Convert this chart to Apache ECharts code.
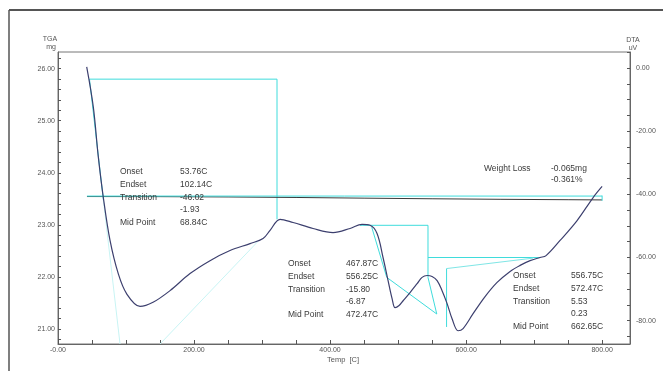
<!DOCTYPE html>
<html>
<head>
<meta charset="utf-8">
<script src="https://cdn.jsdelivr.net/npm/echarts@6/dist/echarts.min.js"></script>
<style>
  html, body { margin: 0; padding: 0; background: #ffffff; }
  #chart { width: 663px; height: 371px; }
</style>
</head>
<body>
<div id="chart"></div>
<script>
// DTA trace: [temperature C, signal uV]
const dtaCurve = [
  [42.2, 0.4], [51.9, -12.3], [59.3, -28.2], [66.6, -40.9], [76.5, -54.6],
  [88.7, -65.2], [101.0, -71.5], [120.6, -75.5], [139.7, -74.2], [164.7, -70.5],
  [194.1, -65.1], [223.5, -61.0], [252.9, -57.8], [282.4, -55.6], [301.5, -54.0],
  [311.8, -51.4], [326.5, -47.9], [345.6, -48.9], [375.0, -50.8], [404.4, -52.1],
  [429.4, -50.8], [447.0, -49.5], [458.8, -49.8], [469.1, -52.4], [477.9, -60.0],
  [485.3, -67.3], [491.2, -73.0], [495.6, -75.9], [501.5, -75.2], [507.4, -73.7],
  [517.6, -71.1], [528.0, -68.3], [535.3, -66.3], [542.6, -65.7], [550.0, -66.0],
  [557.4, -67.3], [564.7, -70.5], [572.1, -74.6], [579.4, -79.4], [588.2, -83.2],
  [595.6, -82.5], [610.3, -77.8], [627.9, -72.4], [645.6, -67.9], [664.7, -64.4],
  [679.4, -62.5], [694.1, -61.0], [708.8, -60.0], [717.6, -59.4], [738.2, -54.6],
  [763.2, -48.3], [786.8, -41.0], [800.0, -37.5]
];

// TGA trace: [temperature C, mass mg]
const tgaCurve = [
  [42.6, 23.543], [150, 23.541], [250, 23.535], [350, 23.525], [450, 23.512],
  [550, 23.500], [650, 23.490], [750, 23.482], [800, 23.478]
];

// Weight-loss baseline on the TGA scale
const tgaBaseline = [[42.6, 23.552], [800, 23.552]];
const tgaBaselineCap = [[800, 23.562], [800, 23.462]];

// First DTA peak analysis (DTA scale)
const peak1Step = [[46.3, -3.5], [322, -3.5], [322, -47.9]];
const peak1Tangent = [[46.3, -3.5], [66.8, -41.9]];
const peak1TangentTail = [[66.8, -41.9], [91.2, -87.4]];
const peak1ReturnTangent = [[150, -87.4], [294, -54.9]];

// Second DTA peak analysis
const peak2Path = [[444, -49.8], [544, -49.8], [544, -66.3], [556.9, -77.9], [483.4, -66.3], [461.3, -50.4]];

// Third DTA peak analysis
const peak3Step = [[544, -60.0], [708.8, -60.0]];
const peak3Drop = [[571.3, -63.5], [571.3, -82.0]];
const peak3Baseline = [[571.3, -63.5], [698.5, -60.2]];

// Axis ticks and labels
const tempTicks = [0, 50, 100, 150, 200, 250, 300, 350, 400, 450, 500, 550, 600, 650, 700, 750, 800];
const tempLabelValues = [0, 200, 400, 600, 800];
const tempLabelText = ['-0.00', '200.00', '400.00', '600.00', '800.00'];
const tgaTicks = [20.8, 21.0, 21.2, 21.4, 21.6, 21.8, 22.0, 22.2, 22.4, 22.6, 22.8, 23.0, 23.2, 23.4, 23.6, 23.8,
  24.0, 24.2, 24.4, 24.6, 24.8, 25.0, 25.2, 25.4, 25.6, 25.8, 26.0, 26.2];
const tgaLabelValues = [21, 22, 23, 24, 25, 26];
const dtaTicks = [-85, -80, -75, -70, -65, -60, -55, -50, -45, -40, -35, -30, -25, -20, -15, -10, -5, 0, 5];
const dtaLabelValues = [0, -20, -40, -60, -80];

// Result tables printed on the plot
const peak1Names = ['Onset', 'Endset', 'Transition', '', 'Mid Point'];
const peak1Values = ['53.76C', '102.14C', '-46.02', '-1.93', '68.84C'];
const peak2Names = ['Onset', 'Endset', 'Transition', '', 'Mid Point'];
const peak2Values = ['467.87C', '556.25C', '-15.80', '-6.87', '472.47C'];
const peak3Names = ['Onset', 'Endset', 'Transition', '', 'Mid Point'];
const peak3Values = ['556.75C', '572.47C', '5.53', '0.23', '662.65C'];
const weightLossName = 'Weight Loss';
const weightLossValues = ['-0.065mg', '-0.361%'];

const FONT = '"Liberation Sans", Arial, sans-serif';
const CYAN = '#3fdcdc';
const CYAN_FAINT = '#c8f4f4';

function cyanLine(data, axisIndex, color, z) {
  return {
    type: 'line', data: data, yAxisIndex: axisIndex, showSymbol: false, symbol: 'none',
    lineStyle: { color: color || CYAN, width: 1 }, silent: true, animation: false, z: z || 2
  };
}

function table(names, values, x1, x2, rows) {
  const out = [];
  names.forEach((n, i) => {
    if (n) out.push({ type: 'text', x: x1, y: rows[i], z: 10,
      style: { text: n, font: '8.5px ' + FONT, fill: '#3a3a3a', verticalAlign: 'middle' } });
    out.push({ type: 'text', x: x2, y: rows[i], z: 10,
      style: { text: values[i], font: '8.5px ' + FONT, fill: '#3a3a3a', verticalAlign: 'middle' } });
  });
  return out;
}

const chart = echarts.init(document.getElementById('chart'), null, { renderer: 'canvas' });

const axisLabelStyle = { fontSize: 7, color: '#555', fontFamily: FONT };

chart.setOption({
  animation: false,
  backgroundColor: '#ffffff',
  grid: { left: 58, right: 33, top: 52, bottom: 27, show: true, borderColor: '#777', borderWidth: 1, backgroundColor: 'transparent' },
  xAxis: {
    type: 'value', min: 0, max: 841,
    axisLine: { show: true, onZero: false, lineStyle: { color: '#666', width: 1 } },
    axisTick: { show: true, inside: true, length: 4, customValues: tempTicks, lineStyle: { color: '#555' } },
    axisLabel: {
      show: true, customValues: tempLabelValues, margin: 3, ...axisLabelStyle,
      formatter: v => tempLabelText[tempLabelValues.indexOf(v)] || ''
    },
    splitLine: { show: false }
  },
  yAxis: [
    {
      type: 'value', position: 'left', min: 20.71, max: 26.32,
      axisLine: { show: true, onZero: false, lineStyle: { color: '#666', width: 1 } },
      axisTick: { show: true, inside: true, length: 3, customValues: tgaTicks, lineStyle: { color: '#555' } },
      axisLabel: { show: true, customValues: tgaLabelValues, margin: 3, ...axisLabelStyle, formatter: v => v.toFixed(2) },
      splitLine: { show: false }
    },
    {
      type: 'value', position: 'right', min: -87.4, max: 5.1,
      axisLine: { show: true, onZero: false, lineStyle: { color: '#666', width: 1 } },
      axisTick: { show: true, inside: true, length: 3, customValues: dtaTicks, lineStyle: { color: '#555' } },
      axisLabel: { show: true, customValues: dtaLabelValues, margin: 6, ...axisLabelStyle, formatter: v => v.toFixed(2) },
      splitLine: { show: false }
    }
  ],
  series: [
    cyanLine(peak1TangentTail, 1, CYAN_FAINT, 1),
    cyanLine(peak1ReturnTangent, 1, CYAN_FAINT, 1),
    cyanLine(peak1Step, 1),
    cyanLine(peak1Tangent, 1),
    cyanLine(peak2Path, 1),
    cyanLine(peak3Step, 1),
    cyanLine(peak3Drop, 1),
    cyanLine(peak3Baseline, 1, '#7fe6e6'),
    {
      type: 'line', name: 'TGA', data: tgaCurve, yAxisIndex: 0, showSymbol: false, symbol: 'none',
      lineStyle: { color: '#3a3a3a', width: 1 }, z: 3
    },
    cyanLine(tgaBaseline, 0, CYAN, 4),
    cyanLine(tgaBaselineCap, 0, CYAN, 4),
    {
      type: 'line', name: 'DTA', data: dtaCurve, yAxisIndex: 1, showSymbol: false, symbol: 'none',
      smooth: 0.35, lineStyle: { color: '#3c3f6e', width: 1.2 }, z: 5
    }
  ],
  graphic: [
    // outer frame
    { type: 'line', shape: { x1: 9, y1: 10, x2: 663, y2: 10 }, style: { stroke: '#555', lineWidth: 2 }, z: 10 },
    { type: 'line', shape: { x1: 9, y1: 10, x2: 9, y2: 371 }, style: { stroke: '#555', lineWidth: 1.5 }, z: 10 },
    // axis titles
    { type: 'text', x: 50, y: 39, style: { text: 'TGA', font: '7px ' + FONT, fill: '#555', align: 'center', verticalAlign: 'middle' } },
    { type: 'text', x: 51, y: 47.5, style: { text: 'mg', font: '7px ' + FONT, fill: '#555', align: 'center', verticalAlign: 'middle' } },
    { type: 'text', x: 633, y: 40, style: { text: 'DTA', font: '7px ' + FONT, fill: '#555', align: 'center', verticalAlign: 'middle' } },
    { type: 'text', x: 633, y: 48, style: { text: 'uV', font: '7px ' + FONT, fill: '#555', align: 'center', verticalAlign: 'middle' } },
    { type: 'text', x: 327, y: 359.5, style: { text: 'Temp  [C]', font: '7.5px ' + FONT, fill: '#555', verticalAlign: 'middle' } },
    ...table(peak1Names, peak1Values, 120, 180, [171.5, 185, 198, 209.5, 222.5]),
    ...table(peak2Names, peak2Values, 288, 346, [263.5, 277, 290, 301.5, 314.5]),
    ...table(peak3Names, peak3Values, 513, 571, [275.5, 288.5, 302, 313.5, 327]),
    { type: 'text', x: 484, y: 169, z: 10, style: { text: weightLossName, font: '8.5px ' + FONT, fill: '#3a3a3a', verticalAlign: 'middle' } },
    { type: 'text', x: 551, y: 169, z: 10, style: { text: weightLossValues[0], font: '8.5px ' + FONT, fill: '#3a3a3a', verticalAlign: 'middle' } },
    { type: 'text', x: 551, y: 180, z: 10, style: { text: weightLossValues[1], font: '8.5px ' + FONT, fill: '#3a3a3a', verticalAlign: 'middle' } }
  ]
});
</script>
</body>
</html>
